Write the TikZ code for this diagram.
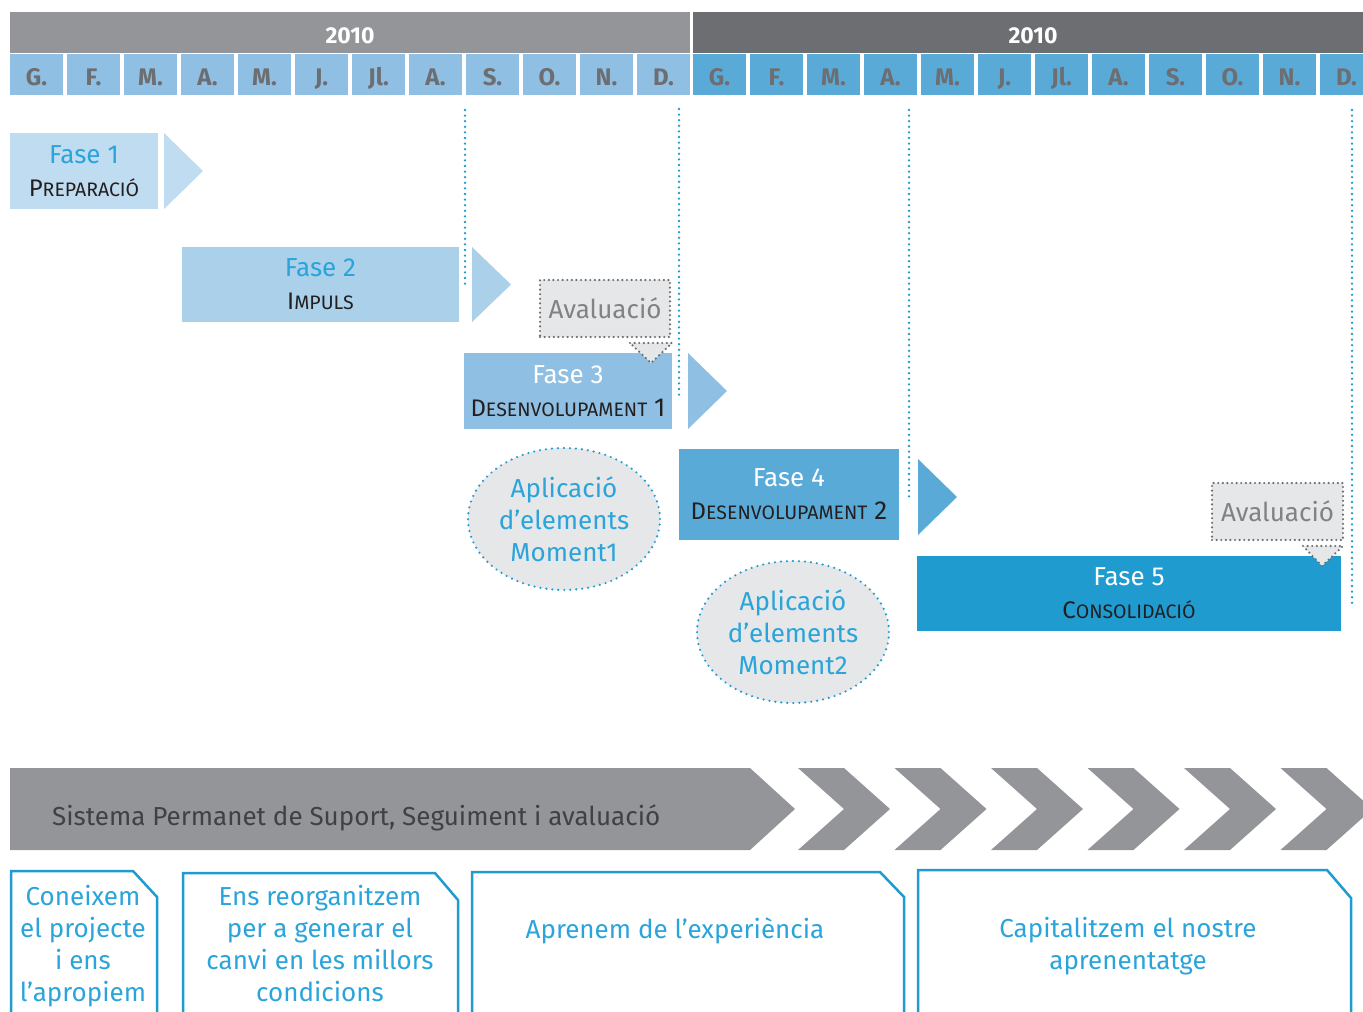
\documentclass[tikz,border=0pt]{standalone}
\usepackage{fontspec}
\setmainfont{Fira Sans}
\usepackage{xcolor}
\usepackage{tikz}
\usetikzlibrary{shapes.geometric}

\definecolor{anyA}{HTML}{939598}
\definecolor{anyB}{HTML}{6D6E71}
\definecolor{mesA}{HTML}{8FC0E3}
\definecolor{mesB}{HTML}{5AAAD8}
\definecolor{mesTxt}{HTML}{6D6E71}
\definecolor{faseU}{HTML}{BFDCF0}
\definecolor{faseD}{HTML}{AAD0EA}
\definecolor{faseT}{HTML}{8FC0E3}
\definecolor{faseQ}{HTML}{5AAAD8}
\definecolor{faseC}{HTML}{1F9BD0}
\definecolor{blau}{HTML}{2AA4DA}
\definecolor{fosc}{HTML}{231F20}
\definecolor{grisClar}{HTML}{E6E7E8}
\definecolor{grisPunt}{HTML}{6D6E71}
\definecolor{grisText}{HTML}{808285}
\definecolor{bandaGris}{HTML}{939598}
\definecolor{bandaText}{HTML}{414042}

\newcommand{\versal}[2]{{\fontsize{24}{33}\selectfont #1}{\fontsize{19.5}{33}\selectfont #2}}

\begin{document}
\begin{tikzpicture}[x=1pt,y=-1pt,
    anybar/.style={minimum height=41pt,inner sep=0pt,text=white,text height=21pt,text depth=0pt,
      font=\fontsize{23}{23}\selectfont\bfseries},
    mes/.style={minimum width=53pt,minimum height=41pt,inner sep=0pt,text=mesTxt,text height=21pt,text depth=0pt,
      font=\fontsize{24}{24}\selectfont\bfseries},
    fase/.style={inner sep=0pt,align=center,text=fosc,font=\fontsize{26}{33}\selectfont},
    aval/.style={draw=grisPunt,fill=grisClar,line width=2.4pt,dash pattern=on 0pt off 4.6pt,line cap=round,
      inner sep=0pt,text=grisText,font=\fontsize{26}{26}\selectfont},
    elip/.style={ellipse,draw=faseC,fill=grisClar,line width=2.4pt,dash pattern=on 0pt off 6pt,line cap=round,
      minimum width=192pt,minimum height=142pt,inner sep=0pt,align=center,text=blau,font=\fontsize{26}{32}\selectfont},
    guia/.style={draw=faseC,line width=2.6pt,dash pattern=on 0pt off 5.6pt,line cap=round},
    banda/.style={fill=bandaGris},
    caixa/.style={draw=faseC,line width=2.5pt,line join=miter},
    peu/.style={align=center,text=blau,inner sep=0pt,font=\fontsize{26}{32}\selectfont}]
    \useasboundingbox (0,0) rectangle (1363,1012);
    \clip (0,0) rectangle (1363,1012);
    % 年份栏
    \node[anybar,fill=anyA,minimum width=680pt] (anyA) at (350,32.5) {2010};
    \node[anybar,fill=anyB,minimum width=680pt] (anyB) at (1033,32.5) {2010};
    % 月份
    \foreach \m [count=\i from 0] in {G.,F.,M.,A.,M.,J.,Jl.,A.,S.,O.,N.,D.}{
        \node[mes,fill=mesA] (mA\i) at ({36.5+57*\i},74.5) {\m};
        \node[mes,fill=mesB] (mB\i) at ({719.5+57*\i},74.5) {\m};
    }
    % 引导虚线
    \draw[guia] (465,110) -- (465,285);
    \draw[guia] (679,109) -- (679,400);
    \draw[guia] (909,110) -- (909,500);
    \draw[guia] (1352,110) -- (1352,608);
    % 各阶段
    \node[fase,fill=faseU,minimum width=148pt,minimum height=76pt] (fase1) at (84,171)
        {\textcolor{blau}{Fase 1}\\\versal{P}{REPARACIÓ}};
    \fill[faseU] (164,133) -- (203,171) -- (164,209) -- cycle;
    \node[fase,fill=faseD,minimum width=277pt,minimum height=75pt] (fase2) at (320.5,284.5)
        {\textcolor{blau}{Fase 2}\\\versal{I}{MPULS}};
    \fill[faseD] (472,247) -- (511,284.5) -- (472,322) -- cycle;
    \node[fase,fill=faseT,minimum width=208pt,minimum height=76pt] (fase3) at (568,391)
        {\textcolor{white}{Fase 3}\\\versal{D}{ESENVOLUPAMENT} 1};
    \fill[faseT] (688,353) -- (727,391) -- (688,429) -- cycle;
    \node[fase,fill=faseQ,minimum width=220pt,minimum height=91pt] (fase4) at (789,494.5)
        {\textcolor{white}{Fase 4}\\\versal{D}{ESENVOLUPAMENT} 2};
    \fill[faseQ] (918,459) -- (957,497) -- (918,535) -- cycle;
    \node[fase,fill=faseC,minimum width=424pt,minimum height=75pt] (fase5) at (1129,593.5)
        {\textcolor{white}{Fase 5}\\\versal{C}{ONSOLIDACIÓ}};
    % avaluacions
    \node[aval,minimum width=130pt,minimum height=57pt] (aval1) at (605,308.5) {Avaluació};
    \path[aval] (630,343) -- (672,343) -- (651,363) -- cycle;
    \node[aval,minimum width=131pt,minimum height=57pt] (aval2) at (1277.5,511.5) {Avaluació};
    \path[aval] (1303,546) -- (1343,546) -- (1322,566) -- cycle;
    % aplicació d'elements
    \node[elip] (mom1) at (564,519) {Aplicació\\d'elements\\Moment1};
    \node[elip] (mom2) at (793,632) {Aplicació\\d'elements\\Moment2};
    % sistema de suport
    \fill[banda] (10,768) -- (750,768) -- (795,809) -- (750,850) -- (10,850) -- cycle;
    \foreach \a in {798,894.5,991,1087.5,1184,1280.5}
        \fill[banda] (\a,768) -- ++(46,0) -- ++(46,41) -- ++(-46,41) -- ++(-46,0) -- ++(46,-41) -- cycle;
    \node[anchor=base west,inner sep=0pt,text=bandaText,font=\fontsize{26}{26}\selectfont] (suport) at (52,825)
        {Sistema Permanet de Suport, Seguiment i avaluació};
    % caixes inferiors
    \draw[caixa] (11,1030) -- (11,871) -- (133,871) -- (157,897) -- (157,1030);
    \node[peu] (peu1) at (83,946) {Coneixem\\el projecte\\i ens\\l'apropiem};
    \draw[caixa] (183,1030) -- (183,873) -- (435,873) -- (458,900) -- (458,1030);
    \node[peu] (peu2) at (320,944) {Ens reorganitzem\\per a generar el\\canvi en les millors\\condicions};
    \draw[caixa] (472,1030) -- (472,872) -- (880,872) -- (904,897) -- (904,1030);
    \node[peu] (peu3) at (675,931) {Aprenem de l'experiència};
    \draw[caixa] (918,1030) -- (918,870) -- (1327,870) -- (1351,898) -- (1351,1030);
    \node[peu] (peu4) at (1128,946) {Capitalitzem el nostre\\aprenentatge};
\end{tikzpicture}
\end{document}
